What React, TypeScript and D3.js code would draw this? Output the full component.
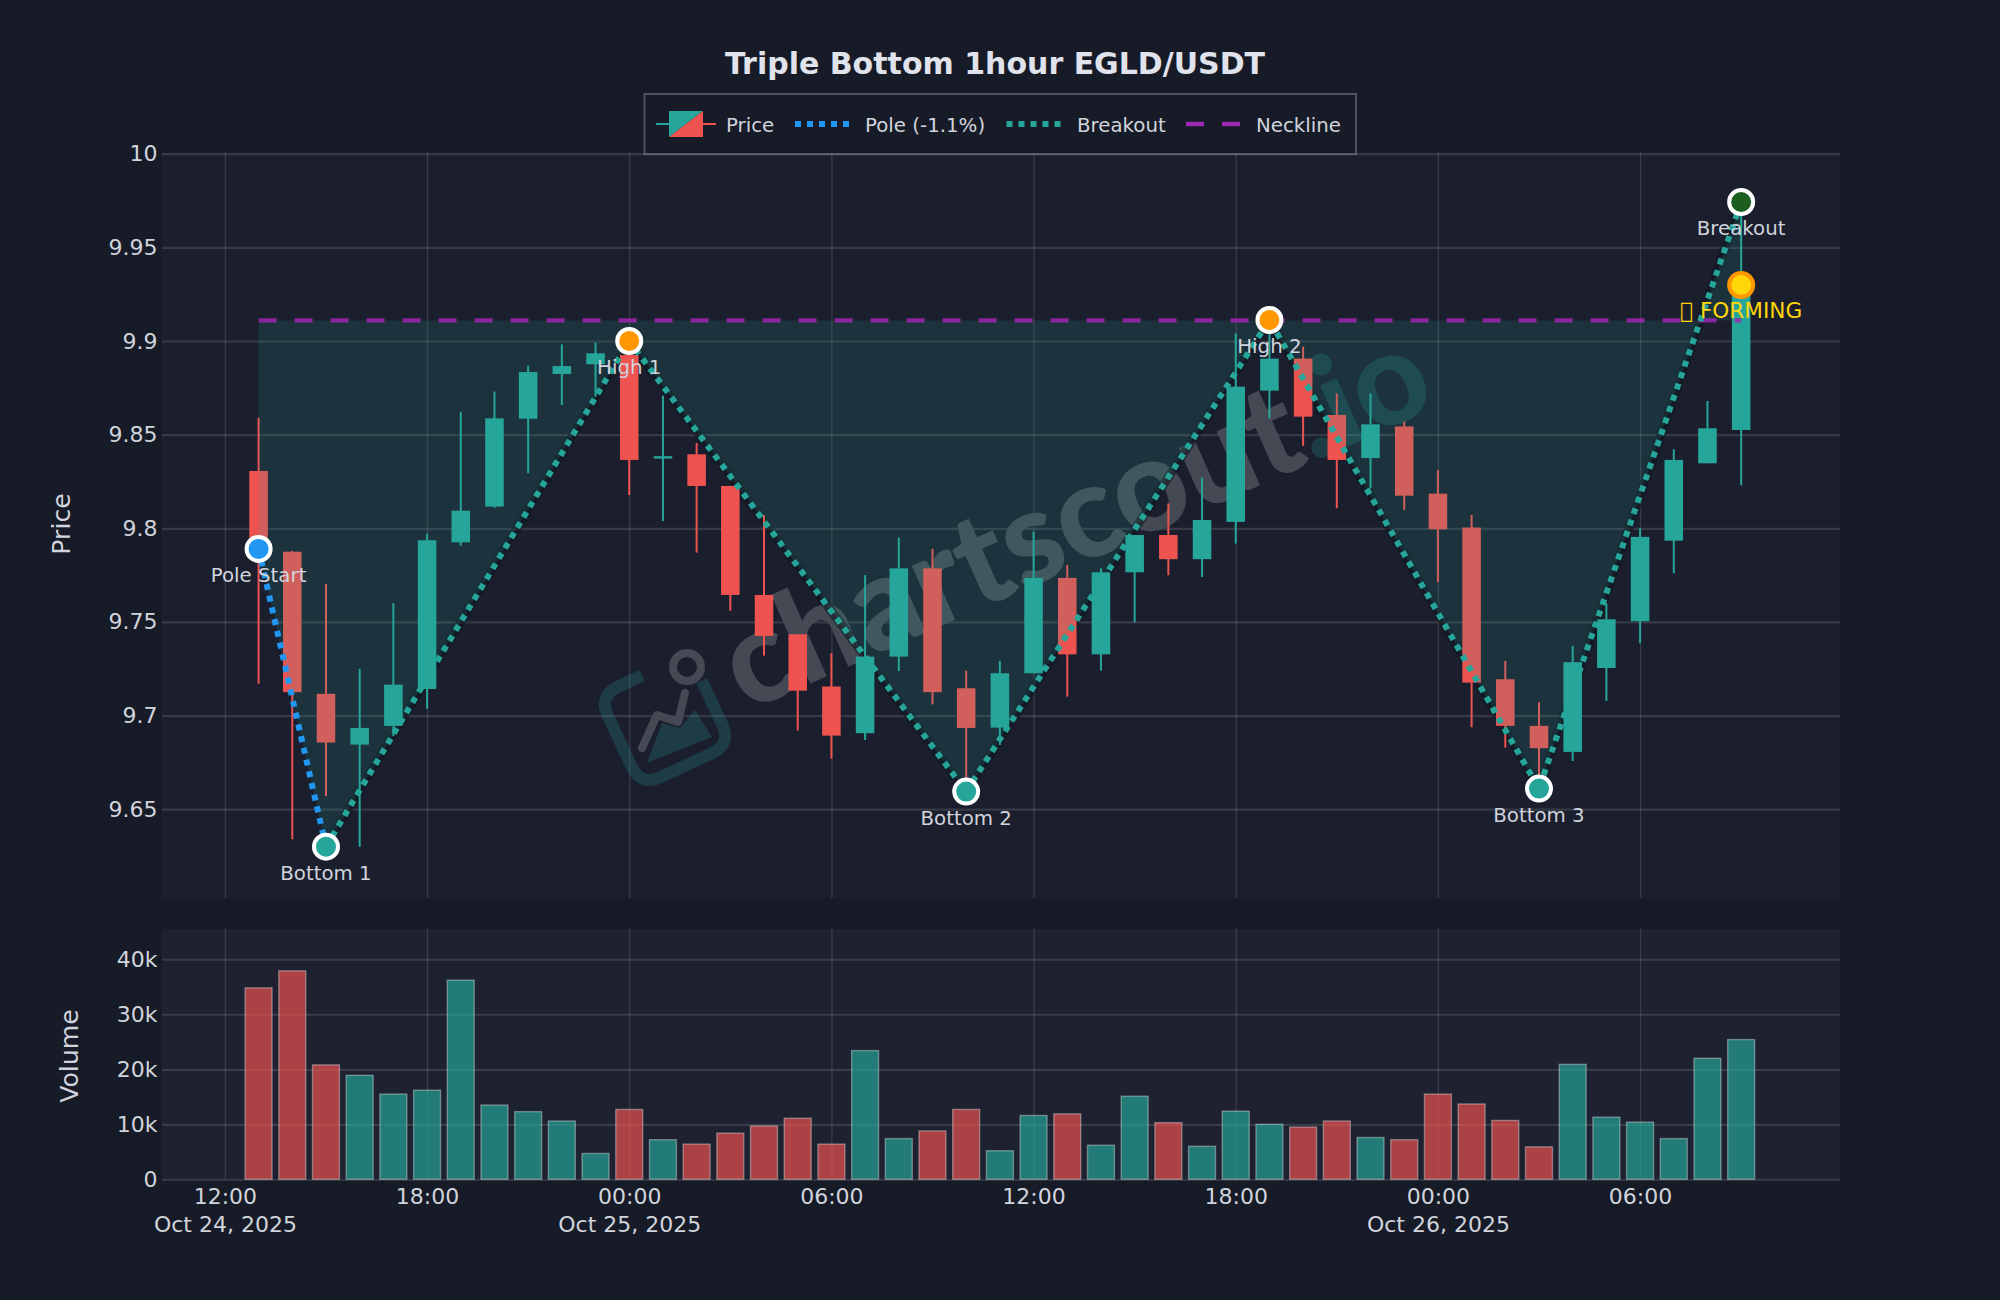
import React, { useEffect, useRef } from "react";
import * as d3 from "d3";

const startTime = Date.UTC(2025, 9, 24, 13);

const opens = [9.8306, 9.7875, 9.7116, 9.6845, 9.6945, 9.7142, 9.7925, 9.8116, 9.8585, 9.8824, 9.8876, 9.8925, 9.8379, 9.8395, 9.8226, 9.7644, 9.7434, 9.7155, 9.6906, 9.7315, 9.7786, 9.7146, 9.6936, 9.7226, 9.7735, 9.7327, 9.7765, 9.7964, 9.7835, 9.8034, 9.8735, 9.8906, 9.8605, 9.8375, 9.8544, 9.8185, 9.8004, 9.7194, 9.6945, 9.6806, 9.7254, 9.7504, 9.7934, 9.8347, 9.8525];
const highs = [9.859, 9.788, 9.7703, 9.725, 9.76, 9.797, 9.8622, 9.873, 9.8868, 9.8982, 9.8991, 9.9, 9.8708, 9.8455, 9.8226, 9.8071, 9.7434, 9.7333, 9.775, 9.795, 9.789, 9.724, 9.7292, 9.7982, 9.7804, 9.7786, 9.7964, 9.8133, 9.827, 9.904, 9.911, 9.897, 9.872, 9.872, 9.857, 9.8311, 9.8071, 9.7292, 9.7071, 9.7372, 9.76, 9.8, 9.8422, 9.868, 9.9683];
const lows = [9.717, 9.634, 9.657, 9.63, 9.689, 9.7037, 9.7907, 9.811, 9.8294, 9.8658, 9.8703, 9.8178, 9.8039, 9.787, 9.756, 9.732, 9.692, 9.677, 9.687, 9.7238, 9.706, 9.659, 9.6843, 9.7226, 9.7101, 9.724, 9.7498, 9.7749, 9.774, 9.7918, 9.8587, 9.844, 9.8107, 9.8214, 9.8098, 9.7712, 9.6938, 9.6829, 9.661, 9.6758, 9.7078, 9.7386, 9.776, 9.8347, 9.823];
const closes = [9.788, 9.7125, 9.6856, 9.6934, 9.7165, 9.7936, 9.8094, 9.8587, 9.8834, 9.8866, 9.8934, 9.8365, 9.8385, 9.8226, 9.7644, 9.7425, 9.7133, 9.6893, 9.7315, 9.7786, 9.7125, 9.6934, 9.7226, 9.7735, 9.7327, 9.7765, 9.7964, 9.7835, 9.8044, 9.8756, 9.8906, 9.8596, 9.8365, 9.8555, 9.8174, 9.7995, 9.7176, 9.6945, 9.6826, 9.7285, 9.7514, 9.7954, 9.8365, 9.8534, 9.93];
const volumes = [34800, 37900, 20800, 18900, 15500, 16200, 36200, 13500, 12300, 10600, 4700, 12700, 7200, 6400, 8400, 9700, 11100, 6400, 23400, 7400, 8800, 12700, 5200, 11600, 11900, 6200, 15100, 10300, 6000, 12400, 10000, 9500, 10600, 7600, 7200, 15500, 13700, 10700, 5900, 20900, 11300, 10400, 7400, 22000, 25400];

const priceTicks = [9.65, 9.7, 9.75, 9.8, 9.85, 9.9, 9.95, 10];
const volumeTicks = [0, 10000, 20000, 30000, 40000];
const timeTicks = [12, 18, 24, 30, 36, 42, 48, 54].map((h) => Date.UTC(2025, 9, 24, h));

// pattern points: candle index + price
const pivotLabels = ["Pole Start", "Bottom 1", "High 1", "Bottom 2", "High 2", "Bottom 3", "Breakout"];
const pivotIndex = [0, 2, 11, 21, 30, 38, 44];
const pivotPrice = [9.789, 9.63, 9.9, 9.6594, 9.9112, 9.661, 9.9742];
const pivotColors = ["#2196F3", "#26A69A", "#FF9800", "#26A69A", "#FF9800", "#26A69A", "#1B5E20"];
const neckline = 9.911;
const formingPrice = 9.9299;
const formingLabel = "\uE123 FORMING";

const UP = "#26A69A";
const DOWN = "#EF5350";
const TEXT = "#D1D4DC";
const FONT = "'DejaVu Sans', sans-serif";

const W = 2000;
const H = 1300;
const plotL = 162;
const plotR = 1840;

const timeAt = (i: number) => d3.utcHour.offset(new Date(startTime), i);

const App = () => {
  const ref = useRef<SVGSVGElement | null>(null);

  useEffect(() => {
    document.body.style.margin = "0";
    const svg = d3.select(ref.current);
    svg.selectAll("*").remove();

    const x = d3
      .scaleTime()
      .domain([new Date(Date.UTC(2025, 9, 24, 10, 8)), new Date(Date.UTC(2025, 9, 26, 11, 56))])
      .range([plotL, plotR]);
    const y = d3.scaleLinear().domain([9.6026, 10]).range([898, 153.7]);
    const yv = d3.scaleLinear().domain([0, 45500]).range([1179.3, 929]);
    const px = (i: number) => x(timeAt(i));

    svg.append("rect").attr("width", W).attr("height", H).attr("fill", "#161B27");
    svg.append("rect").attr("x", plotL).attr("y", 153).attr("width", plotR - plotL).attr("height", 745).attr("fill", "#1B1F2D");
    svg.append("rect").attr("x", plotL).attr("y", 929).attr("width", plotR - plotL).attr("height", 250.3).attr("fill", "#1D2130");

    // axes & grid
    const styleAxis = (g: any, gridWidth: number) => {
      g.select(".domain").remove();
      g.selectAll("line").attr("stroke", "rgba(255,255,255,0.12)").attr("stroke-width", gridWidth);
      g.selectAll("text").attr("fill", TEXT).attr("font-family", FONT).attr("font-size", 22);
    };

    svg
      .append("g")
      .attr("transform", `translate(${plotL},0)`)
      .call(d3.axisLeft(y).tickValues(priceTicks).tickSize(-(plotR - plotL)).tickPadding(4.5).tickFormat(d3.format(".3~f") as any))
      .call((g: any) => styleAxis(g, 2.2));

    svg
      .append("g")
      .attr("transform", `translate(${plotL},0)`)
      .call(
        d3
          .axisLeft(yv)
          .tickValues(volumeTicks)
          .tickSize(-(plotR - plotL))
          .tickPadding(4.5)
          .tickFormat((d: any) => (d === 0 ? "0" : `${d / 1000}k`))
      )
      .call((g: any) => styleAxis(g, 2.2));

    svg
      .append("g")
      .attr("transform", "translate(0,898)")
      .call(d3.axisBottom(x).tickValues(timeTicks.map((t) => new Date(t))).tickSize(-746).tickFormat(() => ""))
      .call((g: any) => styleAxis(g, 1.4));

    const volAxis = svg
      .append("g")
      .attr("transform", "translate(0,1179.3)")
      .call(d3.axisBottom(x).tickValues(timeTicks.map((t) => new Date(t))).tickSize(-251).tickPadding(0).tickFormat(d3.utcFormat("%H:%M") as any))
      .call((g: any) => styleAxis(g, 1.4));
    volAxis.selectAll("text").attr("dy", null).attr("y", 25);
    // second row with the date at midnight / first tick
    volAxis.selectAll<SVGGElement, Date>(".tick").each(function (d, i) {
      if (i === 0 || d.getUTCHours() === 0) {
        d3.select(this)
          .append("text")
          .attr("y", 53)
          .attr("text-anchor", "middle")
          .attr("fill", TEXT)
          .attr("font-family", FONT)
          .attr("font-size", 22)
          .text(d3.utcFormat("%b %d, %Y")(d));
      }
    });

    svg
      .append("text")
      .attr("transform", "translate(61.5,524) rotate(-90)")
      .attr("text-anchor", "middle")
      .attr("dy", "0.35em")
      .attr("fill", TEXT)
      .attr("font-family", FONT)
      .attr("font-size", 25.2)
      .text("Price");
    svg
      .append("text")
      .attr("transform", "translate(69,1056) rotate(-90)")
      .attr("text-anchor", "middle")
      .attr("dy", "0.35em")
      .attr("fill", TEXT)
      .attr("font-family", FONT)
      .attr("font-size", 25.2)
      .text("Volume");

    // watermark
    const wm = svg.append("g");
    const logo = wm.append("g").attr("transform", "translate(665,720)");
    const sq = logo.append("g").attr("transform", "rotate(-25)");
    sq.append("path")
      .attr("d", "M-2,-50 L-28,-50 Q-50,-50 -50,-28 L-50,28 Q-50,50 -28,50 L28,50 Q50,50 50,28 L50,-20")
      .attr("fill", "none")
      .attr("stroke", UP)
      .attr("stroke-opacity", 0.22)
      .attr("stroke-width", 12);
    logo.append("path").attr("d", "M-18,43 L-3,3 L15,8 L30,-10 L47,17 Z").attr("fill", UP).attr("fill-opacity", 0.22);
    logo
      .append("path")
      .attr("d", "M-23,28 L-8,-5 L13,2 L20,-27")
      .attr("fill", "none")
      .attr("stroke", "#454954")
      .attr("stroke-width", 8)
      .attr("stroke-linecap", "round")
      .attr("stroke-linejoin", "round");
    logo.append("circle").attr("cx", 22).attr("cy", -53).attr("r", 14).attr("fill", "none").attr("stroke", "#454954").attr("stroke-width", 8);
    const wmText = wm
      .append("text")
      .attr("transform", "translate(746,712) rotate(-23.8)")
      .attr("font-family", "Lato, sans-serif")
      .attr("font-weight", 900)
      .attr("font-size", 130)
      .attr("fill", "#454954");
    wmText.append("tspan").text("chartscout");
    wmText.append("tspan").attr("fill", UP).attr("fill-opacity", 0.22).text(".io");

    // pattern outline (dark halo under the candles)
    const zig = pivotIndex.slice(1).map((idx, k) => [px(idx), y(pivotPrice[k + 1])] as [number, number]);
    const line = d3.line();
    svg
      .append("path")
      .attr("d", line(zig))
      .attr("fill", "none")
      .attr("stroke", "#12161F")
      .attr("stroke-opacity", 0.6)
      .attr("stroke-width", 9);

    // candles
    const candles = svg.append("g");
    const idx = d3.range(opens.length);
    const bw = x(timeAt(0)) - x(d3.utcMinute.offset(timeAt(0), -32.8));
    candles
      .selectAll("line")
      .data(idx)
      .join("line")
      .attr("x1", (i) => px(i))
      .attr("x2", (i) => px(i))
      .attr("y1", (i) => y(highs[i]))
      .attr("y2", (i) => y(lows[i]))
      .attr("stroke", (i) => (closes[i] >= opens[i] ? UP : DOWN))
      .attr("stroke-width", 2);
    candles
      .selectAll("rect")
      .data(idx)
      .join("rect")
      .attr("x", (i) => px(i) - bw / 2)
      .attr("width", bw)
      .attr("y", (i) => y(Math.max(opens[i], closes[i])))
      .attr("height", (i) => Math.max(2.4, Math.abs(y(opens[i]) - y(closes[i]))))
      .attr("fill", (i) => (closes[i] >= opens[i] ? UP : DOWN));

    // volume bars
    const vw = x(timeAt(0)) - x(d3.utcMinute.offset(timeAt(0), -48));
    svg
      .append("g")
      .selectAll("rect")
      .data(idx)
      .join("rect")
      .attr("x", (i) => px(i) - vw / 2)
      .attr("width", vw)
      .attr("y", (i) => yv(volumes[i]))
      .attr("height", (i) => yv(0) - yv(volumes[i]))
      .attr("fill", (i) => (closes[i] >= opens[i] ? UP : DOWN))
      .attr("fill-opacity", 0.68)
      .attr("stroke", "rgba(255,255,255,0.35)")
      .attr("stroke-width", 1.4);

    // fill between neckline and the zigzag, sits on top of the candles
    const poly: [number, number][] = [
      [px(pivotIndex[0]), y(neckline)],
      ...pivotIndex.map((idx2, k) => [px(idx2), y(pivotPrice[k])] as [number, number]),
      [px(pivotIndex[6]), y(neckline)],
    ];
    svg.append("path").attr("d", `${line(poly)}Z`).attr("fill", UP).attr("fill-opacity", 0.15);

    // neckline
    svg
      .append("line")
      .attr("x1", px(pivotIndex[0]))
      .attr("x2", px(pivotIndex[6]))
      .attr("y1", y(neckline))
      .attr("y2", y(neckline))
      .attr("stroke", "#9C27B0")
      .attr("stroke-opacity", 0.85)
      .attr("stroke-width", 4.4)
      .attr("stroke-dasharray", "18 18");

    // pole + breakout legs
    svg
      .append("path")
      .attr("d", line(zig))
      .attr("fill", "none")
      .attr("stroke", UP)
      .attr("stroke-width", 6)
      .attr("stroke-dasharray", "6 6");
    svg
      .append("path")
      .attr("d", line([[px(pivotIndex[0]), y(pivotPrice[0])], zig[0]]))
      .attr("fill", "none")
      .attr("stroke", "#2196F3")
      .attr("stroke-width", 6)
      .attr("stroke-dasharray", "6 6");

    // markers
    svg
      .append("g")
      .selectAll("circle")
      .data(pivotLabels)
      .join("circle")
      .attr("cx", (_, k) => px(pivotIndex[k]))
      .attr("cy", (_, k) => y(pivotPrice[k]))
      .attr("r", 12)
      .attr("fill", (_, k) => pivotColors[k])
      .attr("stroke", "#fff")
      .attr("stroke-width", 4);
    svg
      .append("g")
      .selectAll("text")
      .data(pivotLabels)
      .join("text")
      .attr("x", (_, k) => px(pivotIndex[k]))
      .attr("y", (_, k) => y(pivotPrice[k]) + 26)
      .attr("dy", "0.35em")
      .attr("text-anchor", "middle")
      .attr("fill", TEXT)
      .attr("font-family", FONT)
      .attr("font-size", 19.8)
      .text((d) => d);

    svg
      .append("circle")
      .attr("cx", px(44))
      .attr("cy", y(formingPrice))
      .attr("r", 12)
      .attr("fill", "#FFD60A")
      .attr("stroke", "#FF9800")
      .attr("stroke-width", 4);
    svg
      .append("text")
      .attr("x", px(44))
      .attr("y", y(formingPrice) + 25)
      .attr("dy", "0.35em")
      .attr("text-anchor", "middle")
      .attr("fill", "#FFD60A")
      .attr("font-family", FONT)
      .attr("font-size", 21.6)
      .text(formingLabel);

    // title
    svg
      .append("text")
      .attr("x", 995)
      .attr("y", 63)
      .attr("dy", "0.35em")
      .attr("text-anchor", "middle")
      .attr("fill", "#E0E3EB")
      .attr("font-family", FONT)
      .attr("font-weight", 700)
      .attr("font-size", 30)
      .text("Triple Bottom 1hour EGLD/USDT");

    // legend
    const leg = svg.append("g");
    leg.append("rect").attr("x", 644.5).attr("y", 94).attr("width", 711.5).attr("height", 60).attr("fill", "#161B27").attr("stroke", "rgba(255,255,255,0.25)").attr("stroke-width", 2);
    leg.append("line").attr("x1", 656).attr("x2", 669).attr("y1", 124).attr("y2", 124).attr("stroke", UP).attr("stroke-width", 2);
    leg.append("line").attr("x1", 703).attr("x2", 716).attr("y1", 124).attr("y2", 124).attr("stroke", DOWN).attr("stroke-width", 2);
    leg.append("path").attr("d", "M669,111 H703 L669,137 Z").attr("fill", UP);
    leg.append("path").attr("d", "M703,111 V137 H669 Z").attr("fill", DOWN);
    const legendLines = [
      { x1: 795, stroke: "#2196F3", dash: "6 6", w: 6 },
      { x1: 1006.5, stroke: UP, dash: "6 6", w: 6 },
      { x1: 1186, stroke: "#9C27B0", dash: "18 18", w: 4.4 },
    ];
    legendLines.forEach((d) => {
      leg.append("line").attr("x1", d.x1).attr("x2", d.x1 + 54).attr("y1", 124).attr("y2", 124).attr("stroke", d.stroke).attr("stroke-width", d.w).attr("stroke-dasharray", d.dash);
    });
    const legendText: [string, number][] = [["Price", 726], ["Pole (-1.1%)", 865], ["Breakout", 1077], ["Neckline", 1256]];
    legendText.forEach(([t, tx]) => {
      leg.append("text").attr("x", tx).attr("y", 125).attr("dy", "0.35em").attr("fill", TEXT).attr("font-family", FONT).attr("font-size", 19.8).text(t);
    });
  }, []);

  return <svg ref={ref} width={W} height={H} style={{ display: "block" }}></svg>;
};

export default App;
